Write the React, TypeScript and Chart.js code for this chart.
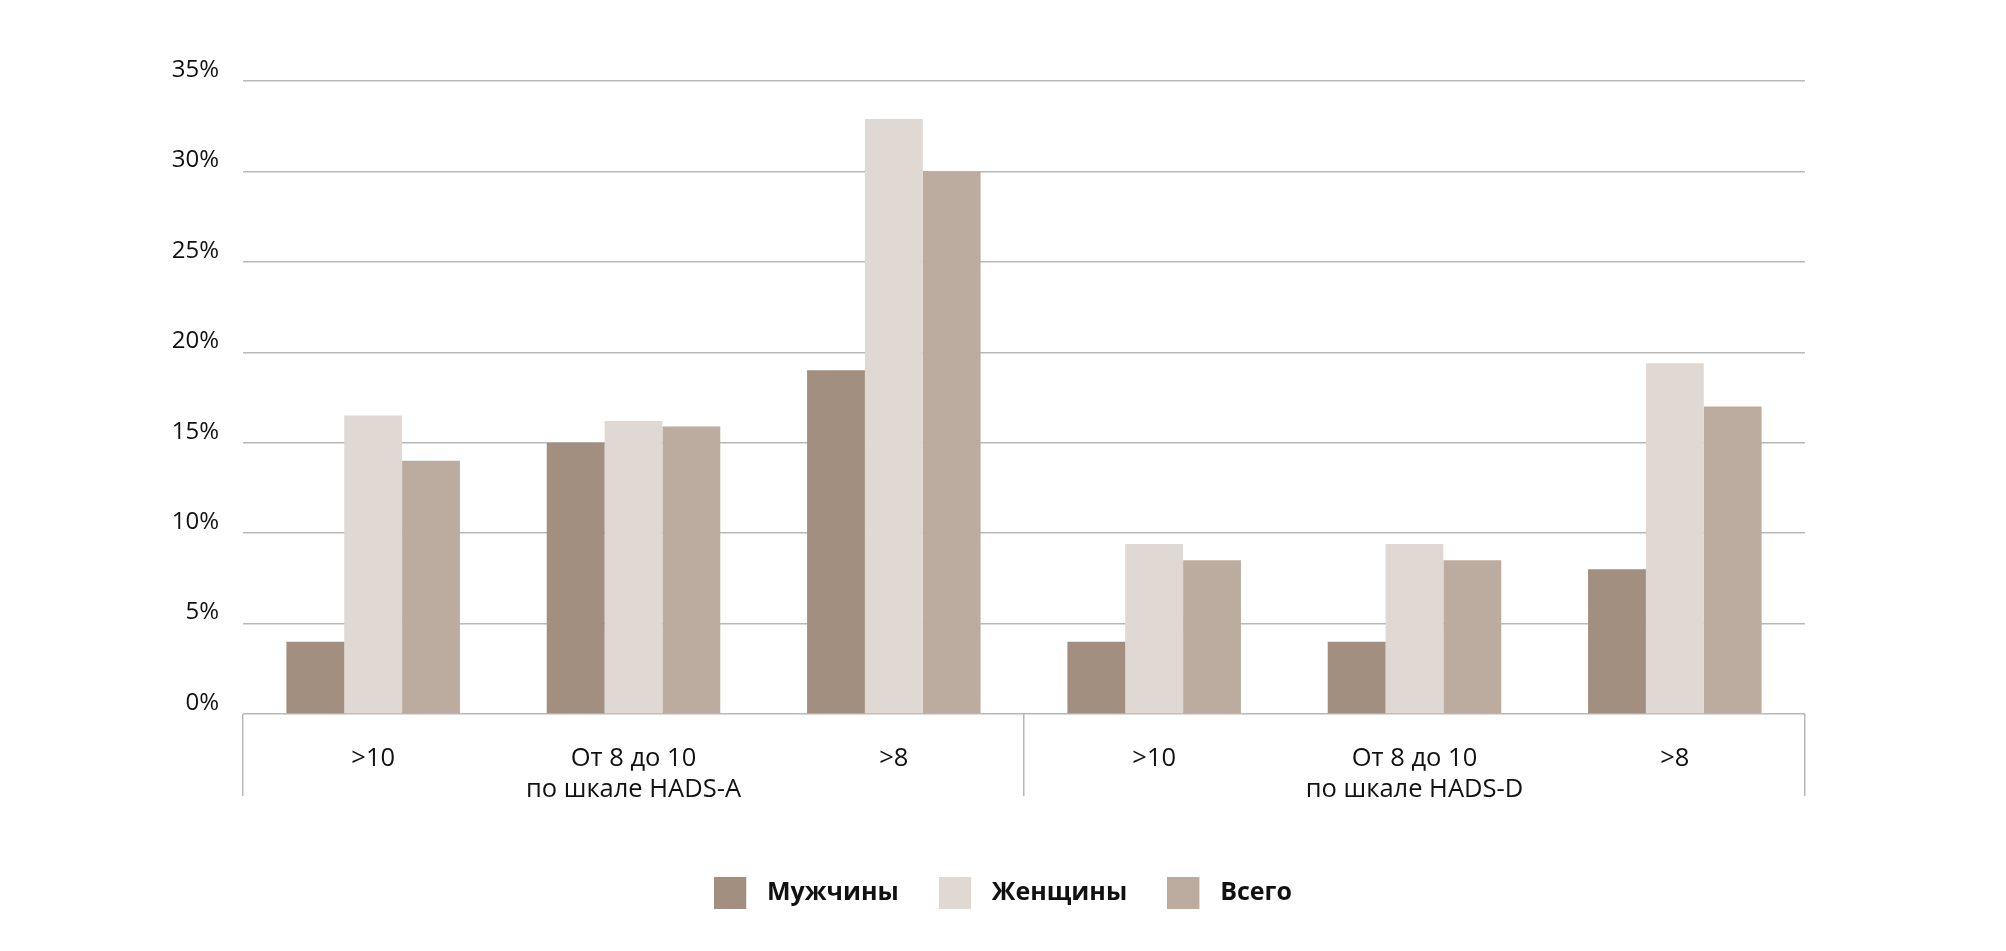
import React, { useEffect, useRef } from 'react';
import { Chart, registerables } from 'chart.js';

Chart.register(...registerables);

const categories: (string | string[])[] = [
  '>10',
  ['От 8 до 10', 'по шкале HADS-A'],
  '>8',
  '>10',
  ['От 8 до 10', 'по шкале HADS-D'],
  '>8',
];

const seriesNames = ['Мужчины', 'Женщины', 'Всего'];
const menValues = [4, 15, 19, 4, 4, 8];
const womenValues = [16.5, 16.2, 32.9, 9.4, 9.4, 19.4];
const totalValues = [14, 15.9, 30, 8.5, 8.5, 17];
const yTicks = [0, 5, 10, 15, 20, 25, 30, 35];

const colors = ['#a38f80', '#e0d8d2', '#bcac9f'];
const gridColor = '#b8b8b8';
const fontFamily = "'Open Sans', 'Noto Sans', sans-serif";

function legendSwatch(color: string): HTMLCanvasElement {
  const c = document.createElement('canvas');
  c.width = 40;
  c.height = 32;
  const g = c.getContext('2d')!;
  g.fillStyle = color;
  g.fillRect(0, 0, 32, 32);
  return c;
}

const legendShift = {
  id: 'legendShift',
  afterLayout(chart: any) {
    const lg = chart.legend;
    if (lg) {
      lg.left = 201;
      lg.right = 1805;
      lg.width = 1604;
    }
  },
};

export default function App() {
  const ref = useRef<HTMLCanvasElement>(null);

  useEffect(() => {
    if (!ref.current) return;
    const swatches = colors.map(legendSwatch);
    const chart = new Chart(ref.current, {
      type: 'bar',
      data: {
        labels: categories as any,
        datasets: [menValues, womenValues, totalValues].map((vals, i) => ({
          label: seriesNames[i],
          data: vals,
          backgroundColor: colors[i],
          borderWidth: 0,
          categoryPercentage: 2 / 3,
          barPercentage: 1,
        })),
      },
      plugins: [legendShift],
      options: {
        responsive: false,
        animation: false,
        devicePixelRatio: 1,
        layout: { padding: { left: 150, right: 201, top: 81, bottom: 36 } },
        plugins: {
          tooltip: { enabled: false },
          legend: {
            position: 'bottom',
            labels: {
              usePointStyle: true,
              pointStyleWidth: 40.5,
              padding: 40,
              color: '#111',
              font: { family: fontFamily, size: 25, weight: 'bold' },
              generateLabels: (ch: any) => {
                const items = Chart.defaults.plugins.legend.labels.generateLabels(ch);
                items.forEach((it: any, i: number) => {
                  it.pointStyle = swatches[i];
                  it.lineWidth = 0;
                });
                return items;
              },
            },
          },
        },
        scales: {
          x: {
            type: 'category',
            offset: true,
            border: { display: false },
            grid: {
              offset: true,
              drawOnChartArea: false,
              drawTicks: true,
              tickLength: 82,
              lineWidth: 1.5,
              color: (ctx: any) =>
                ctx.index === undefined || ctx.index % 3 === 0 ? gridColor : 'rgba(0,0,0,0)',
            },
            ticks: {
              padding: -53,
              maxRotation: 0,
              autoSkip: false,
              color: '#111',
              font: { family: fontFamily, size: 25.5, lineHeight: 1.22 },
            },
            afterFit: (s: any) => {
              s.height = 126;
            },
          },
          y: {
            min: 0,
            max: 35,
            border: { display: false },
            grid: { drawTicks: false, color: gridColor, lineWidth: 1.5 },
            afterBuildTicks: (s: any) => {
              s.ticks = yTicks.map((v) => ({ value: v }));
            },
            ticks: {
              padding: 24,
              labelOffset: -11,
              color: '#111',
              font: { family: fontFamily, size: 24 },
              callback: (v: any) => `${v}%`,
            },
            afterFit: (s: any) => {
              s.width = 93;
            },
          },
        },
      },
    });
    return () => chart.destroy();
  }, []);

  return (
    <div style={{ position: 'fixed', left: 0, top: 0, width: 2006, height: 951, background: '#fff' }}>
      <canvas ref={ref} width={2006} height={951} style={{ width: 2006, height: 951, display: 'block' }} />
    </div>
  );
}
